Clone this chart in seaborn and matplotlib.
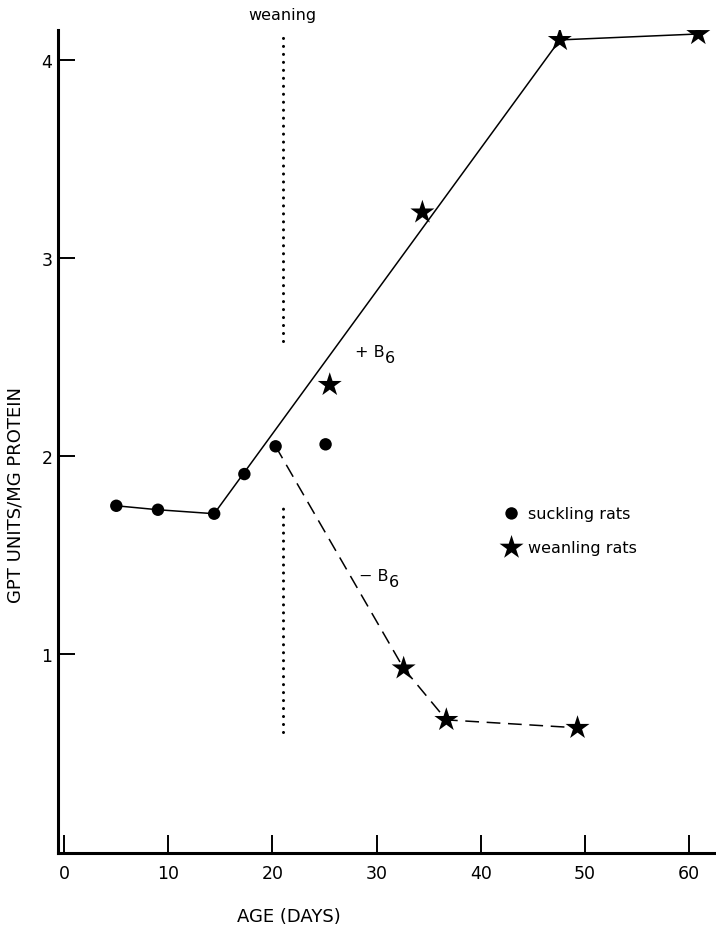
import matplotlib
matplotlib.use("Agg")
import matplotlib.pyplot as plt
import seaborn as sns

# 哺乳期 (circles) 与断奶后 (stars) 的测量点
suckling_age = [5, 9, 14.4, 17.3, 20.3, 25.1]
suckling_gpt = [1.75, 1.73, 1.71, 1.91, 2.05, 2.06]
weanling_age = [25.5, 34.4, 47.6, 60.9, 32.6, 36.7, 49.3]
weanling_gpt = [2.36, 3.23, 4.10, 4.13, 0.93, 0.67, 0.63]

# 手绘的趋势线
plus_b6_age = [5, 9, 14.4, 47.6, 60.9]
plus_b6_gpt = [1.75, 1.73, 1.71, 4.10, 4.13]
minus_b6_age = [20.3, 32.6, 36.7, 49.3]
minus_b6_gpt = [2.05, 0.93, 0.67, 0.63]

# 断奶标记 (虚点线)
weaning_day = 21.0
weaning_upper = [2.58, 4.15]
weaning_lower = [0.61, 1.77]

x_ticks = [0, 10, 20, 30, 40, 50, 60]
y_ticks = [1, 2, 3, 4]

sns.set_style("ticks", {"axes.edgecolor": "black", "text.color": "black",
                        "axes.labelcolor": "black", "xtick.color": "black",
                        "ytick.color": "black"})
plt.rcParams["font.family"] = ["DejaVu Sans"]

fig = plt.figure(figsize=(7.16, 9.28), dpi=100)
ax = fig.add_axes([58 / 716, 74.3 / 928, 658 / 716, 822.7 / 928])

sns.lineplot(x=plus_b6_age, y=plus_b6_gpt, ax=ax, color="black", lw=1.1,
             sort=False, estimator=None)
sns.lineplot(x=minus_b6_age, y=minus_b6_gpt, ax=ax, color="black", lw=1.1,
             sort=False, estimator=None, linestyle=(0, (9, 5)))

for seg in (weaning_upper, weaning_lower):
    ax.plot([weaning_day, weaning_day], seg, color="black", lw=2.2,
            linestyle=(0, (0.01, 2.6)), dash_capstyle="round")

sns.scatterplot(x=suckling_age, y=suckling_gpt, ax=ax, marker="o", s=80,
                color="black", edgecolor="none", label="suckling rats", zorder=3)
sns.scatterplot(x=weanling_age, y=weanling_gpt, ax=ax, marker="*", s=330,
                color="black", edgecolor="none", label="weanling rats", zorder=3)

ax.set_xlim(-0.6, 62.6)
ax.set_ylim(0, 4.15)
ax.set_xticks(x_ticks)
ax.set_yticks(y_ticks)
sns.despine(ax=ax)
for side in ("left", "bottom"):
    ax.spines[side].set_linewidth(2.2)
ax.tick_params(axis="x", direction="in", length=13, width=1.4, pad=8,
               labelsize=12.5, color="black")
ax.tick_params(axis="y", direction="in", length=12, width=1.4, pad=4,
               labelsize=12.5, color="black")

ax.set_xlabel("AGE (DAYS)", fontsize=13, va="center")
ax.xaxis.set_label_coords((289 - 58) / 658, -0.077)
ax.set_ylabel("GPT UNITS/MG PROTEIN", fontsize=13, va="center")
ax.yaxis.set_label_coords(-0.064, 0.436)

ax.text(weaning_day, 4.23, "weaning", ha="center", va="center", fontsize=11.5)

for x, y, sign in [(27.9, 2.53, "+"), (28.3, 1.40, "−")]:
    t = ax.text(x, y, sign + " B", ha="left", va="center", fontsize=11.5)
    ax.annotate("6", xy=(1.0, 0.1), xycoords=t, xytext=(0.5, 0),
                textcoords="offset points", ha="left", va="center", fontsize=11.5)

ax.legend(loc="center left", bbox_to_anchor=(0.665, 0.392), frameon=False,
          fontsize=11.5, handlelength=1.0, handletextpad=0.5,
          labelspacing=1.2, borderpad=0)

fig.savefig("out.png", dpi=100)
